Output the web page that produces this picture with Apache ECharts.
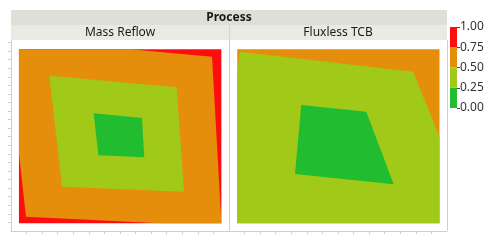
<!DOCTYPE html>
<html>
<head>
<meta charset="utf-8">
<script src="https://cdn.jsdelivr.net/npm/echarts@6/dist/echarts.min.js"></script>
<style>html,body{margin:0;padding:0;background:#fff}#c{width:494px;height:243px}</style>
</head>
<body>
<div id="c"></div>
<script>
// ---- data ----
const groupTitle = 'Process';
const panelTitles = ['Mass Reflow', 'Fluxless TCB'];
const legendLevels = [0, 0.25, 0.5, 0.75, 1];
const bandSizes = [0.25, 0.25, 0.25, 0.25];
const xTicks = [1,2,3,4,5,6,7,8,9,10,11,12,13];
const yTicks = [1,2,3,4,5,6,7,8,9,10,11,12,13,14,15,16,17,18,19,20,21,22];
const xRange = [0, 14];
const yRange = [0, 22.29];

// contour regions: band index (0 = 0.00-0.25 ... 3 = 0.75-1.00) and polygon vertices
const massReflowBands = [3, 2, 1, 0];
const massReflowPolys = [
  [[0.51,0.9],[13.51,0.9],[13.51,21.2],[0.51,21.2]],
  [[0.51,21.2],[7.64,21.2],[12.91,20.34],[13.51,0.9],[9.57,0.9],[0.96,1.67],[0.51,9.07]],
  [[2.46,18.12],[10.64,16.77],[11.11,4.59],[3.28,5.17]],
  [[5.31,13.73],[8.41,13.19],[8.56,8.6],[5.61,8.83]]
];
const fluxlessBands = [2, 1, 0];
const fluxlessPolys = [
  [[0.53,0.9],[13.52,0.9],[13.52,21.2],[0.53,21.2]],
  [[0.53,18.4],[0.69,20.92],[11.82,18.59],[13.52,11.0],[13.52,0.9],[0.53,0.9]],
  [[4.64,14.7],[8.82,13.92],[10.57,5.45],[4.24,6.65]]
];

// ---- style ----
const bandColors = ['#21BC2F', '#A0C918', '#E58E0C', '#FD0E0E'];
const FONT = 'Noto Sans';
const frameColor = '#cfcfcf';

function regionSeries(polys, bands, idx) {
  return {
    type: 'custom', xAxisIndex: idx, yAxisIndex: idx, silent: true,
    data: polys.map(p => p[0]),
    renderItem: function (params, api) {
      const pts = polys[params.dataIndex].map(v => api.coord(v));
      return { type: 'polygon', shape: { points: pts },
        style: { fill: bandColors[bands[params.dataIndex]], stroke: null } };
    }
  };
}

function panelX(idx) {
  return { type: 'value', gridIndex: idx, min: xRange[0], max: xRange[1],
    axisLine: { show: true, lineStyle: { color: frameColor } },
    axisTick: { show: true, length: 3, customValues: xTicks, lineStyle: { color: frameColor } },
    axisLabel: { show: false }, splitLine: { show: false } };
}
function panelY(idx, ticks) {
  return { type: 'value', gridIndex: idx, min: yRange[0], max: yRange[1],
    axisLine: { show: true, onZero: false, lineStyle: { color: frameColor } },
    axisTick: { show: ticks, length: 3, customValues: yTicks, lineStyle: { color: frameColor } },
    axisLabel: { show: false }, splitLine: { show: false } };
}

const legendSeries = bandSizes.map((v, i) => ({
  type: 'bar', xAxisIndex: 2, yAxisIndex: 2, stack: 'lg', barWidth: '100%', silent: true,
  data: [v], itemStyle: { color: bandColors[i] }
}));

const chart = echarts.init(document.getElementById('c'), null, { renderer: 'canvas' });
chart.setOption({
  animation: false,
  textStyle: { fontFamily: FONT },
  grid: [
    { left: 11, top: 40, width: 218, height: 191 },
    { left: 229, top: 40, width: 218, height: 191 },
    { left: 450, top: 27, width: 7, height: 81 }
  ],
  xAxis: [panelX(0), panelX(1),
    { type: 'category', gridIndex: 2, data: ['k'], show: false }],
  yAxis: [panelY(0, true), panelY(1, false),
    { type: 'value', gridIndex: 2, position: 'right', min: legendLevels[0], max: legendLevels[legendLevels.length - 1], interval: 0.25,
      axisLine: { show: false },
      axisTick: { show: true, length: 3, lineStyle: { color: '#444' } },
      axisLabel: { margin: 3, fontSize: 12, color: '#333', fontFamily: FONT, formatter: v => v.toFixed(2) },
      splitLine: { show: false } }],
  series: [regionSeries(massReflowPolys, massReflowBands, 0),
           regionSeries(fluxlessPolys, fluxlessBands, 1)].concat(legendSeries),
  graphic: [
    { type: 'rect', shape: { x: 11, y: 10, width: 436, height: 15 }, style: { fill: '#dfdfd7' }, silent: true },
    { type: 'rect', shape: { x: 11, y: 25, width: 436, height: 15 }, style: { fill: '#eaeae4' }, silent: true },
    { type: 'line', shape: { x1: 229.5, y1: 25, x2: 229.5, y2: 40 }, style: { stroke: '#d6d6cf', lineWidth: 1 }, silent: true },
    { type: 'line', shape: { x1: 447.5, y1: 40, x2: 447.5, y2: 231 }, style: { stroke: frameColor, lineWidth: 1 }, silent: true },
    { type: 'text', x: 229, y: 17.5, style: { text: groupTitle, font: 'bold 12px "' + FONT + '"', fill: '#1a1a1a', align: 'center', verticalAlign: 'middle' }, silent: true },
    { type: 'text', x: 120, y: 32.5, style: { text: panelTitles[0], font: '12px "' + FONT + '"', fill: '#1a1a1a', align: 'center', verticalAlign: 'middle' }, silent: true },
    { type: 'text', x: 338, y: 32.5, style: { text: panelTitles[1], font: '12px "' + FONT + '"', fill: '#1a1a1a', align: 'center', verticalAlign: 'middle' }, silent: true }
  ]
});
</script>
</body>
</html>
